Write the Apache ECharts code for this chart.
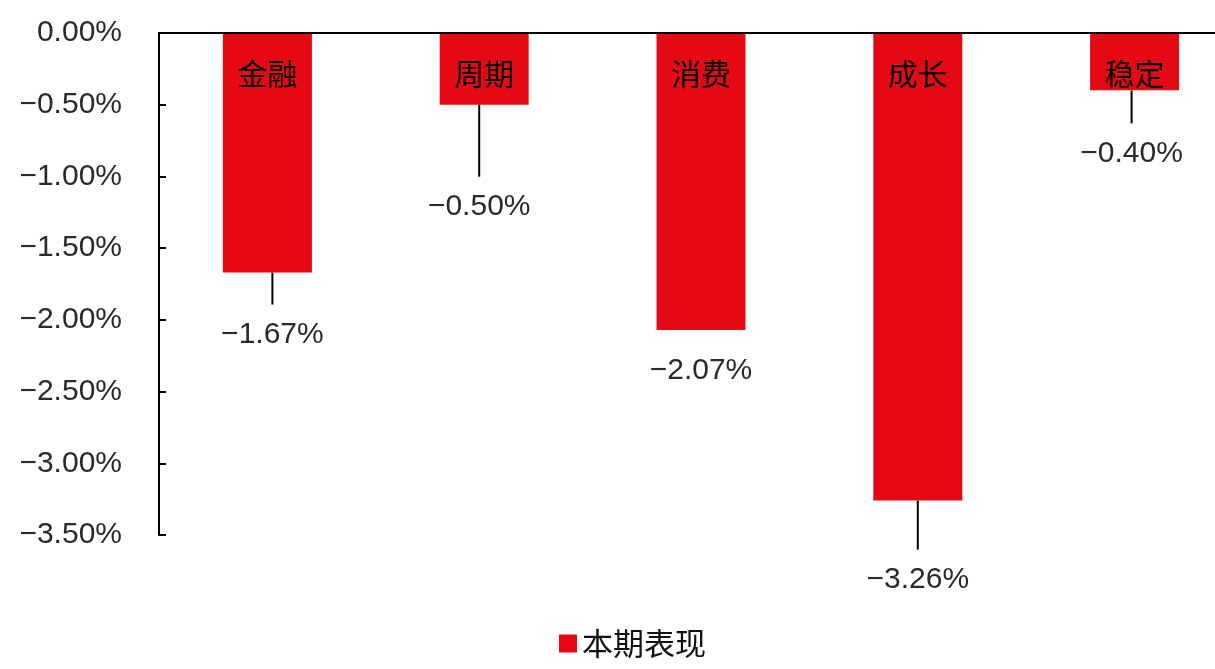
<!DOCTYPE html>
<html>
<head>
<meta charset="utf-8">
<script src="https://cdn.jsdelivr.net/npm/echarts@6/dist/echarts.min.js"></script>
<style>html,body{margin:0;padding:0;background:#fff;overflow:hidden;width:1215px;height:669px;}#chart{width:1250px;height:669px;}</style>
</head>
<body>
<div id="chart"></div>
<script>
// Data
const categories = ['金融', '周期', '消费', '成长', '稳定'];
const values = [-1.67, -0.50, -2.07, -3.26, -0.40];
const seriesName = '本期表现';

// Label placement (styling, not data)
const labelShift = [
  { dx: 5, dy: 32, line: true },
  { dx: -5, dy: 72, line: true },
  { dx: 0, dy: 11, line: false },
  { dx: 0, dy: 49, line: true },
  { dx: -3, dy: 33, line: true }
];

const fmt = v => (v < 0 ? '\u2212' : '') + Math.abs(v).toFixed(2) + '%';
const numFont = "'Liberation Sans', Arial, sans-serif";
const cjkFont = "'Noto Sans CJK SC', sans-serif";

const chart = echarts.init(document.getElementById('chart'));
chart.setOption({
  animation: false,
  backgroundColor: '#ffffff',
  grid: { left: 159, top: 33, width: 1084, height: 502, containLabel: false },
  legend: {
    data: [seriesName],
    left: 554, top: 623,
    icon: 'rect', itemWidth: 18, itemHeight: 18, itemGap: 10,
    textStyle: { fontFamily: cjkFont, fontSize: 31, color: '#111' }
  },
  xAxis: {
    type: 'category',
    data: categories,
    position: 'top',
    z: 10,
    axisLine: { show: true, lineStyle: { color: '#000', width: 2 } },
    axisTick: { show: false },
    axisLabel: { inside: true, margin: 26, color: '#000', fontFamily: cjkFont, fontSize: 30 }
  },
  yAxis: {
    type: 'value',
    min: -3.5, max: 0, interval: 0.5,
    axisLine: { show: true, lineStyle: { color: '#000', width: 2 } },
    axisTick: { show: true, inside: true, length: 7, lineStyle: { color: '#000', width: 2 } },
    splitLine: { show: false },
    axisLabel: { margin: 37, color: '#2a2a2a', fontFamily: numFont, fontSize: 30, formatter: fmt }
  },
  series: [{
    name: seriesName,
    type: 'bar',
    barWidth: 89,
    itemStyle: { color: '#E50914' },
    data: values.map((v, i) => ({ value: v, labelLine: { show: labelShift[i].line } })),
    label: {
      show: true, position: 'bottom', distance: 0,
      color: '#2a2a2a', fontFamily: numFont, fontSize: 30,
      formatter: p => '{gap|}\n{v|' + fmt(p.value) + '}',
      rich: {
        gap: { height: 14, lineHeight: 14, fontSize: 10 },
        v: { color: '#2a2a2a', fontFamily: numFont, fontSize: 30, lineHeight: 32 }
      }
    },
    labelLine: { show: true, lineStyle: { color: '#000', width: 2 } },
    labelLayout: p => ({ dx: labelShift[p.dataIndex].dx, dy: labelShift[p.dataIndex].dy })
  }]
});
</script>
</body>
</html>
